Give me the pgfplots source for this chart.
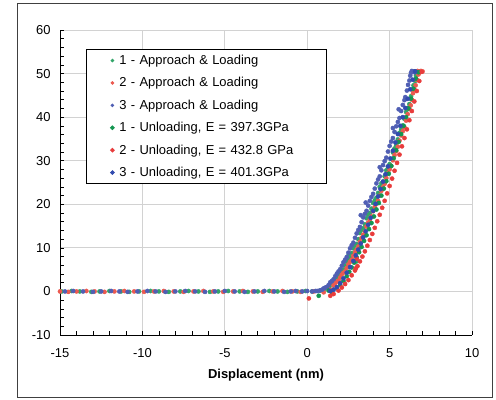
\documentclass[border=0pt]{standalone}
\usepackage{pgfplots}
\pgfplotsset{compat=1.18}
\usepackage{fontspec}
\setmainfont{Liberation Sans}
\definecolor{cg}{RGB}{20,150,80}
\definecolor{cr}{RGB}{232,60,60}
\definecolor{cb}{RGB}{50,75,175}
\definecolor{cgl}{RGB}{50,165,105}
\definecolor{crl}{RGB}{236,90,80}
\definecolor{cbl}{RGB}{80,95,180}
\definecolor{gridc}{RGB}{210,210,210}
\begin{document}
\begin{tikzpicture}[x=1bp,y=1bp]
\path (0,0) rectangle (496,399);
\draw[black!75,line width=0.8bp] (17,2) rectangle (492,396);
\begin{axis}[
  at={(60bp,64bp)}, anchor=south west,
  scale only axis, width=412bp, height=305bp,
  xmin=-15, xmax=10, ymin=-10, ymax=60,
  xtick={-15,-10,...,10}, ytick={-10,0,...,60},
  minor x tick num=4, minor y tick num=4,
  axis x line*=bottom, axis y line*=left,
  axis line style={black, line width=0.9bp, -},
  tick align=inside,
  major tick length=4bp, minor tick length=4bp,
  tick style={black, line width=0.6bp},
  grid=major, major grid style={gridc, line width=0.8bp},
  /pgf/number format/assume math mode=true,
  tick label style={font=\fontsize{13}{15}\selectfont},
  xticklabel style={yshift=-10bp},
  yticklabel style={xshift=-6bp},
  xlabel={\bfseries Displacement (nm)},
  xlabel style={font=\fontsize{13}{15}\selectfont, at={(axis description cs:0.5,-0.131)}, anchor=center},
  legend style={at={(0.063,0.938)}, anchor=north west, draw=black, line width=0.9bp,
    inner xsep=0pt, inner ysep=0pt, row sep=0pt,
    font=\fontsize{13}{15}\selectfont,
    nodes={inner sep=0pt, text width=207bp, minimum height=22.4bp, align=left}},
  legend cell align=left,
]
% 1 - Approach & Loading
\addplot[only marks, mark=*, mark size=2.1bp, color=cgl, mark options={draw=none, fill=cgl},
  legend image code/.code={\path[draw=none,fill=none] (0bp,0bp) -- (33bp,0bp); \fill[cgl] (26bp,0bp) circle (1.3bp);}]
coordinates {
(-14.9,0)(-14.3,0.1)(-13.8,0)(-13.1,-0.1)(-12.6,0)(-12.0,0.1)(-11.3,0)(-10.8,-0.1)(-10.2,0)(-9.5,0.1)
(-9.0,0)(-8.4,-0.1)(-7.7,0)(-7.2,0.1)(-6.6,0)(-5.9,-0.1)(-5.4,0)(-4.8,0.1)(-4.1,0)(-3.6,-0.1)
(-3.0,0)(-2.3,0.1)(-1.8,0)(-1.2,-0.1)(-0.6,0)(-0.1,0.1)(0.3,0)
(0.8,0.2)(1.0,0.4)(1.2,0.9)(1.5,1.8)(1.7,2.8)(1.9,3.6)(2.1,4.6)(2.3,5.9)(2.5,7.2)(2.7,8.8)
(2.9,10.6)(3.1,12.0)(3.3,14.1)(3.5,15.4)(3.7,17.6)(3.9,19.0)(4.1,20.9)(4.3,22.6)(4.5,24.8)(4.7,26.4)
(4.9,28.6)(5.1,30.4)(5.3,32.8)(5.5,34.9)(5.7,37.2)(5.9,39.6)(6.1,42.1)(6.3,44.8)(6.45,47.3)(6.6,49.5)
(6.7,50.4)(6.8,50.5)
(1.35,1.2)(1.6,2.5)(1.8,3.0)(2.0,4.4)(2.2,5.0)(2.4,6.8)(2.6,7.8)(2.8,9.9)(3.0,10.9)(3.2,13.4)
(3.4,14.5)(3.6,16.8)(3.8,18.0)(4.0,20.3)(4.2,21.5)(4.4,24.0)(4.6,25.2)(4.8,27.8)(5.0,29.2)(5.2,31.9)
(5.4,33.5)(5.6,36.4)(5.8,38.1)(6.0,41.2)(6.2,43.0)(6.38,46.3)(6.55,48.3)(3.0,6.9)(2.5,8.2)
};
\addlegendentry{1 - Approach \& Loading}
% 2 - Approach & Loading
\addplot[only marks, mark=*, mark size=2.1bp, color=crl, mark options={draw=none, fill=crl},
  legend image code/.code={\path[draw=none,fill=none] (0bp,0bp) -- (33bp,0bp); \fill[crl] (26bp,0bp) circle (1.3bp);}]
coordinates {
(-15.0,0)(-14.5,-0.1)(-14.0,0)(-13.4,0.1)(-12.9,0)(-12.3,-0.1)(-11.7,0)(-11.1,0.1)(-10.5,0)(-9.9,-0.1)
(-9.3,0)(-8.7,0.1)(-8.1,0)(-7.5,-0.1)(-6.9,0)(-6.3,0.1)(-5.7,0)(-5.1,-0.1)(-4.5,0)(-3.9,0.1)
(-3.3,0)(-2.7,-0.1)(-2.1,0)(-1.5,0.1)(-0.9,0)(-0.4,-0.1)(0.4,0)
(1.0,-0.2)(1.3,0.5)(1.6,1.4)(1.8,2.3)(2.0,3.2)(2.2,4.3)(2.4,5.4)(2.6,6.8)(2.8,8.2)(3.0,9.6)
(3.2,11.4)(3.4,13.0)(3.6,14.9)(3.8,16.5)(4.0,18.4)(4.2,20.1)(4.4,22.0)(4.6,23.9)(4.8,26.0)(5.0,28.0)
(5.2,30.1)(5.4,32.2)(5.6,34.6)(5.8,36.8)(6.0,39.2)(6.2,41.9)(6.35,44.0)(6.5,46.4)(6.65,48.6)(6.8,50.2)
(6.9,50.6)(7.0,50.5)
(1.5,0.4)(1.7,1.9)(1.9,2.5)(2.1,3.9)(2.3,4.6)(2.5,6.2)(2.7,7.3)(2.9,9.0)(3.1,10.3)(3.3,12.3)
(3.5,13.7)(3.7,15.8)(3.9,17.2)(4.1,19.4)(4.3,20.8)(4.5,23.1)(4.7,24.7)(4.9,27.1)(5.1,28.8)(5.3,31.3)
(5.5,33.2)(5.7,35.8)(5.9,37.7)(6.1,40.7)(6.28,42.7)(6.42,45.5)(6.58,47.3)(6.75,49.8)(6.6,50.5)(6.7,50.6)
};
\addlegendentry{2 - Approach \& Loading}
% 3 - Approach & Loading
\addplot[only marks, mark=*, mark size=2.1bp, color=cbl, mark options={draw=none, fill=cbl},
  legend image code/.code={\path[draw=none,fill=none] (0bp,0bp) -- (33bp,0bp); \fill[cbl] (26bp,0bp) circle (1.3bp);}]
coordinates {
(-14.7,0)(-14.2,0.1)(-13.6,0)(-13.0,-0.1)(-12.5,0)(-11.9,0.1)(-11.4,0)(-10.9,-0.1)(-10.3,0)(-9.7,0.1)
(-9.2,0)(-8.6,-0.1)(-8.0,0)(-7.4,0.1)(-6.8,0)(-6.2,-0.1)(-5.6,0)(-5.0,0.1)(-4.4,0)(-3.8,-0.1)
(-3.2,0)(-2.6,0.1)(-2.0,0)(-1.4,-0.1)(-1.0,0)(-0.7,0.1)(-0.3,0)(0.0,0.1)(0.3,0)(0.5,0.1)
(0.6,0.1)(0.9,0.4)(1.1,0.9)(1.3,1.5)(1.5,2.4)(1.7,3.5)(1.9,4.6)(2.1,5.9)(2.3,7.3)(2.5,8.9)
(2.7,10.6)(2.9,12.3)(3.1,14.1)(3.3,15.9)(3.5,17.8)(3.55,20.4)(3.7,19.7)(3.9,21.7)(4.1,23.6)(4.3,25.7)
(4.5,27.8)(4.7,29.9)(4.9,32.1)(5.1,34.4)(5.3,36.6)(5.5,38.9)(5.7,41.4)(5.9,43.9)(6.05,46.1)(6.2,48.4)
(6.3,50.2)(6.45,50.5)(6.6,50.4)
(0.75,0.2)(1.0,0.7)(1.2,1.0)(1.4,2.1)(1.6,2.8)(1.8,4.1)(2.0,5.1)(2.2,6.7)(2.4,7.9)(2.6,9.9)
(2.8,11.2)(3.0,13.3)(3.2,14.8)(3.4,17.0)(3.6,18.5)(3.8,20.8)(4.0,22.4)(4.2,24.8)(4.4,26.4)(4.6,29.0)
(4.8,30.7)(5.0,33.4)(5.2,35.2)(5.4,37.9)(5.6,39.8)(5.8,42.8)(5.95,44.6)(6.12,47.4)(6.25,49.5)(6.35,50.6)
(6.5,50.3)(5.55,41.8)(5.2,37.5)(4.4,28.5)(3.25,17.5)
};
\addlegendentry{3 - Approach \& Loading}
% 1 - Unloading
\addplot[only marks, mark=*, mark size=2.1bp, color=cg, mark options={draw=none, fill=cg},
  legend image code/.code={\path[draw=none,fill=none] (0bp,0bp) -- (33bp,0bp); \fill[cg] (26bp,0bp) circle (1.8bp);}]
coordinates {
(6.75,50.3)(6.6,48.8)(6.45,46.5)(6.3,44.2)(6.15,42.0)(6.0,40.0)(5.85,38.0)(5.7,36.1)(5.55,34.3)(5.4,32.4)
(5.25,30.6)(5.1,28.8)(4.95,27.0)(4.8,25.3)(4.65,23.6)(4.5,22.0)(4.35,20.3)(4.2,18.8)(4.05,17.2)(3.9,15.7)
(3.75,14.3)(3.6,12.9)(3.45,11.6)(3.3,10.2)(3.15,9.0)(3.0,7.8)(2.85,6.6)(2.7,5.5)(2.55,4.5)(2.4,3.5)
(2.2,2.4)(2.0,1.5)(1.8,0.8)(1.5,-0.3)(1.3,0.2)(0.7,-1.0)
};
\addlegendentry{1 - Unloading, E = 397.3GPa}
% 2 - Unloading
\addplot[only marks, mark=*, mark size=2.1bp, color=cr, mark options={draw=none, fill=cr},
  legend image code/.code={\path[draw=none,fill=none] (0bp,0bp) -- (33bp,0bp); \fill[cr] (26bp,0bp) circle (1.8bp);}]
coordinates {
(6.95,50.4)(6.8,48.3)(6.65,46.0)(6.5,43.6)(6.35,41.4)(6.2,39.3)(6.05,37.2)(5.9,35.2)(5.75,33.3)(5.6,31.4)
(5.45,29.5)(5.3,27.7)(5.15,25.9)(5.0,24.2)(4.85,22.5)(4.7,20.8)(4.55,19.2)(4.4,17.6)(4.25,16.1)(4.1,14.6)
(3.95,13.2)(3.8,11.8)(3.65,10.5)(3.5,9.2)(3.35,8.0)(3.2,6.9)(3.05,5.8)(2.95,5.3)(3.0,7.5)(2.9,4.8)
(2.7,3.7)(2.5,2.6)(2.3,1.7)(2.1,0.9)(1.9,0.2)(1.6,-0.6)(1.4,-1.0)(0.1,-1.6)
};
\addlegendentry{2 - Unloading, E = 432.8 GPa}
% 3 - Unloading
\addplot[only marks, mark=*, mark size=2.1bp, color=cb, mark options={draw=none, fill=cb},
  legend image code/.code={\path[draw=none,fill=none] (0bp,0bp) -- (33bp,0bp); \fill[cb] (26bp,0bp) circle (1.8bp);}]
coordinates {
(6.55,50.5)(6.4,48.6)(6.25,46.4)(6.1,44.2)(5.95,42.1)(5.8,40.0)(5.65,38.0)(5.5,36.1)(5.35,34.2)(5.2,32.3)
(5.05,30.5)(4.9,28.7)(4.75,26.9)(4.6,25.2)(4.45,23.5)(4.3,21.8)(4.15,20.1)(4.0,18.5)(3.85,16.9)(3.7,15.3)
(3.55,13.8)(3.4,12.4)(3.25,11.0)(3.1,9.6)(2.95,8.3)(2.8,7.0)(2.6,5.6)(2.4,4.3)(2.2,3.0)(2.0,1.9)
(1.8,1.0)(1.6,0.4)(1.4,0.1)
};
\addlegendentry{3 - Unloading, E = 401.3GPa}
\end{axis}
\end{tikzpicture}
\end{document}
